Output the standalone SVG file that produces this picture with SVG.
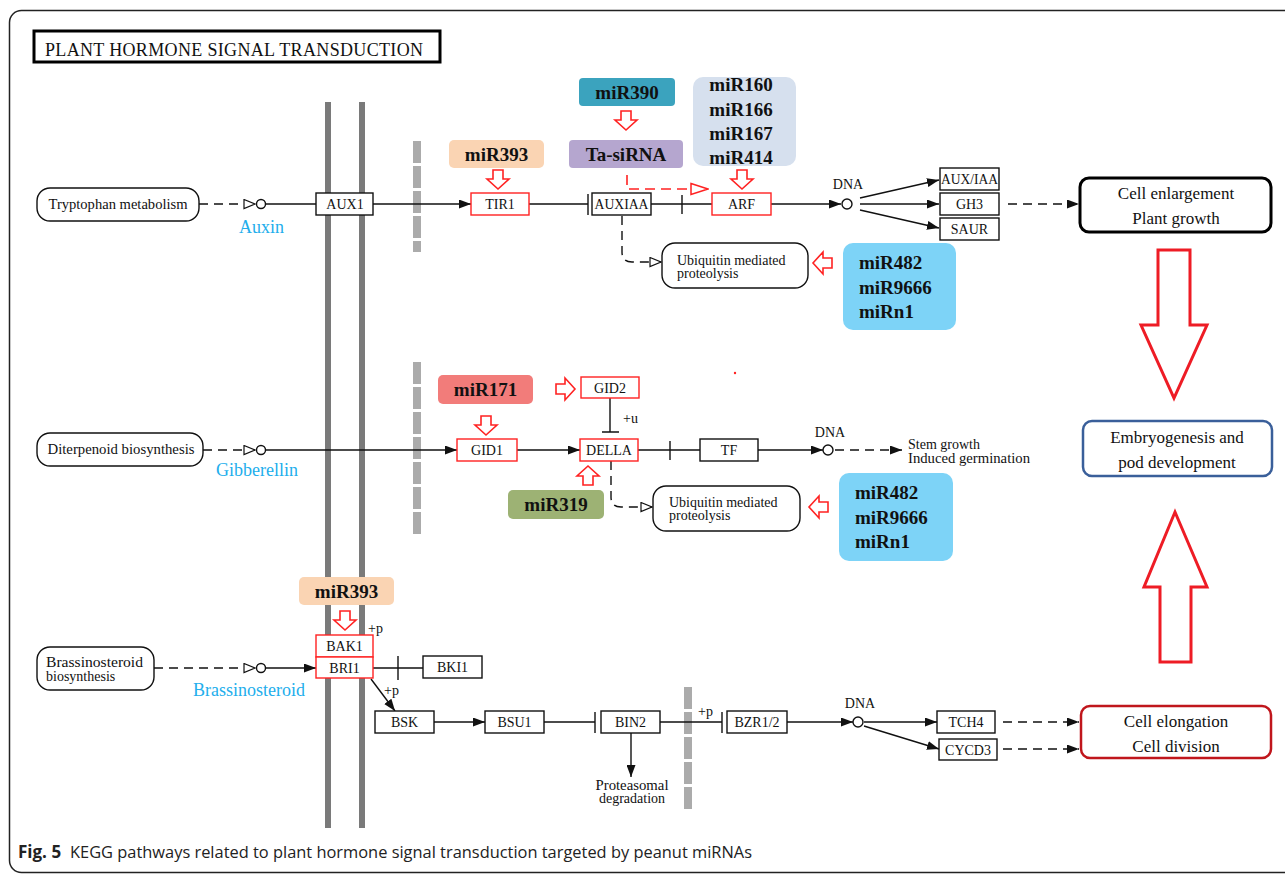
<svg xmlns="http://www.w3.org/2000/svg" width="1285" height="875" viewBox="0 0 1285 875">
<style>
.box{fill:#fff;stroke:#111;stroke-width:1.4}
.rbox{fill:#fff;stroke:#f22;stroke-width:1.4}
.rnd{fill:#fff;stroke:#111;stroke-width:1.4}
.t{font-family:"Liberation Serif",serif;font-size:14px;fill:#111}
.tc{font-family:"Liberation Serif",serif;font-size:14px;fill:#111;text-anchor:middle}
.mir{font-family:"Liberation Serif",serif;font-size:19px;font-weight:bold;fill:#111}
.mirc{font-family:"Liberation Serif",serif;font-size:19px;font-weight:bold;fill:#111;text-anchor:middle}
.blue{font-family:"Liberation Serif",serif;font-size:18px;fill:#22AEEC}
.big{font-family:"Liberation Serif",serif;font-size:17px;fill:#111;text-anchor:middle}
.ln{stroke:#111;stroke-width:1.4;fill:none}
.dash{stroke-dasharray:9 6}
.rdash{stroke:#f22;stroke-width:1.6;fill:none;stroke-dasharray:10 6}
.ha{fill:#fff;stroke:#f22;stroke-width:1.6;stroke-linejoin:miter}
.bigarrow{fill:#fff;stroke:#ee1c25;stroke-width:3}
.mem{fill:#7a7a7a}
.nuc{stroke:#ababab;stroke-width:8;stroke-dasharray:22 3;fill:none}
.dot{fill:#fff;stroke:#111;stroke-width:1.4}
</style>
<defs>
<marker id="arr" markerUnits="userSpaceOnUse" markerWidth="12" markerHeight="9" refX="12" refY="4.5" orient="auto"><path d="M0,0 L12,4.5 L0,9 Z" fill="#111"/></marker>
<marker id="open" markerUnits="userSpaceOnUse" markerWidth="13" markerHeight="11" refX="12" refY="5.5" orient="auto"><path d="M1,1 L12,5.5 L1,10 Z" fill="#fff" stroke="#111" stroke-width="1.2"/></marker>
<marker id="ropen" markerUnits="userSpaceOnUse" markerWidth="19" markerHeight="14" refX="18" refY="7" orient="auto"><path d="M1,1.5 L18,7 L1,12.5 Z" fill="#fff" stroke="#f22" stroke-width="1.5"/></marker>
<path id="hdown" d="M-5,0 H5 V9 H11 L0,19 L-11,9 H-5 Z"/>
</defs>

<rect x="9.5" y="10.5" width="1290" height="862" rx="12" fill="#fff" stroke="#222" stroke-width="1.5"/>

<g id="title">
<rect x="34" y="31" width="406" height="31" fill="#fff" stroke="#000" stroke-width="3"/>
<text x="45" y="56" textLength="378" lengthAdjust="spacing" style="font-family:'Liberation Serif',serif;font-size:18px;fill:#111">PLANT HORMONE SIGNAL TRANSDUCTION</text>
</g>

<g id="membranes">
<rect class="mem" x="325" y="102" width="6" height="726"/>
<rect class="mem" x="359" y="102" width="6" height="726"/>
<path class="nuc" d="M417,141 V252"/>
<path class="nuc" d="M417,362 V534"/>
<path class="nuc" d="M688,687 V809"/>
</g>

<g id="connectors">
<!-- row 1 -->
<path class="ln dash" d="M199,204 H255" marker-end="url(#open)"/>
<path class="ln" d="M266,204 H316"/>
<path class="ln" d="M373,204 H471" marker-end="url(#arr)"/>
<path class="ln" d="M529,204 H588 M588,194 V215"/>
<path class="ln" d="M651,204 H712 M682,195 V214"/>
<path class="ln" d="M771,204 H841" marker-end="url(#arr)"/>
<path class="ln" d="M860,198 L939,180" marker-end="url(#arr)"/>
<path class="ln" d="M860,204 H939" marker-end="url(#arr)"/>
<path class="ln" d="M860,210 L939,228" marker-end="url(#arr)"/>
<path class="ln dash" d="M1008,204 H1079" marker-end="url(#arr)"/>
<path class="ln dash" d="M622,216 V252 Q622,262 632,262 H661" marker-end="url(#open)"/>
<path class="rdash" d="M627,175 V189 H708" marker-end="url(#ropen)"/>
<!-- row 2 -->
<path class="ln dash" d="M203,450 H255" marker-end="url(#open)"/>
<path class="ln" d="M266,450 H457" marker-end="url(#arr)"/>
<path class="ln" d="M517,450 H580" marker-end="url(#arr)"/>
<path class="ln" d="M638,450 H700 M670,441 V460"/>
<path class="ln" d="M758,450 H823" marker-end="url(#arr)"/>
<path class="ln dash" d="M835,450 H902" marker-end="url(#arr)"/>
<path class="ln" d="M610,398 V432 M602,432 H619"/>
<path class="ln dash" d="M611,461 V497 Q611,507 621,507 H652" marker-end="url(#open)"/>
<!-- row 3 -->
<path class="ln dash" d="M154,668 H255" marker-end="url(#open)"/>
<path class="ln" d="M266,668 H316" marker-end="url(#arr)"/>
<path class="ln" d="M373,668 H423 M398,656 V680"/>
<path class="ln" d="M371,679 L395,711" marker-end="url(#arr)"/>
<path class="ln" d="M434,722 H485" marker-end="url(#arr)"/>
<path class="ln" d="M544,722 H595 M595,712 V733"/>
<path class="ln" d="M660,722 H722 M722,712 V733"/>
<path class="ln" d="M787,722 H853" marker-end="url(#arr)"/>
<path class="ln" d="M864,722 H937" marker-end="url(#arr)"/>
<path class="ln" d="M864,726 L939,749" marker-end="url(#arr)"/>
<path class="ln dash" d="M1003,722 H1079" marker-end="url(#arr)"/>
<path class="ln dash" d="M1003,749 H1079" marker-end="url(#arr)"/>
<path class="ln" d="M631,733 V777" marker-end="url(#arr)"/>
<!-- red hollow arrows -->
<use href="#hdown" class="ha" transform="translate(498,170)"/>
<use href="#hdown" class="ha" transform="translate(626,111)"/>
<use href="#hdown" class="ha" transform="translate(742,170)"/>
<use href="#hdown" class="ha" transform="translate(832,263) rotate(90)"/>
<use href="#hdown" class="ha" transform="translate(556,389) rotate(-90)"/>
<use href="#hdown" class="ha" transform="translate(486,416)"/>
<use href="#hdown" class="ha" transform="translate(588,485) rotate(180)"/>
<use href="#hdown" class="ha" transform="translate(828,507) rotate(90)"/>
<use href="#hdown" class="ha" transform="translate(345,611)"/>
<path class="bigarrow" d="M1158,250 H1190 V325 H1207 L1174,398 L1141,325 H1158 Z"/>
<path class="bigarrow" d="M1160,662 H1191 V587 H1207 L1175,512 L1144,587 H1160 Z"/>
<circle cx="735" cy="373" r="1.2" fill="#f22"/>
</g>

<!-- Row 1 nodes -->
<g id="tryptophan"><rect class="rnd" x="37" y="188" width="162" height="33" rx="13"/><text class="tc" x="118" y="209" textLength="139" lengthAdjust="spacingAndGlyphs">Tryptophan metabolism</text></g>
<g id="auxin"><circle class="dot" cx="261" cy="204" r="4.5"/><text class="blue" x="239" y="233">Auxin</text></g>
<g id="aux1"><rect class="box" x="316" y="193" width="57" height="22"/><text class="tc" x="345" y="209">AUX1</text></g>
<g id="tir1"><rect class="rbox" x="471" y="193" width="58" height="22"/><text class="tc" x="500" y="209">TIR1</text></g>
<g id="auxiaa"><rect class="box" x="592" y="193" width="59" height="22"/><text class="tc" x="621.5" y="209" textLength="54" lengthAdjust="spacingAndGlyphs">AUXIAA</text></g>
<g id="arf"><rect class="rbox" x="712" y="193" width="59" height="22"/><text class="tc" x="741.5" y="209">ARF</text></g>
<g id="dna1"><circle class="dot" cx="847" cy="204" r="5"/><text class="tc" x="848" y="189">DNA</text></g>
<g id="auxiaa2"><rect class="box" x="940" y="168" width="59" height="22"/><text class="tc" x="969.5" y="184" textLength="57" lengthAdjust="spacingAndGlyphs">AUX/IAA</text></g>
<g id="gh3"><rect class="box" x="940" y="193" width="59" height="22"/><text class="tc" x="969.5" y="209">GH3</text></g>
<g id="saur"><rect class="box" x="940" y="218" width="59" height="22"/><text class="tc" x="969.5" y="234">SAUR</text></g>
<g id="ubiq1"><rect class="rnd" x="662" y="243" width="146" height="45" rx="13"/><text class="t" x="677" y="265">Ubiquitin mediated</text><text class="t" x="677" y="278">proteolysis</text></g>
<g id="mir393a"><rect x="449" y="140" width="95" height="28" rx="5" fill="#FAD4B3"/><text class="mirc" x="496.5" y="161">miR393</text></g>
<g id="mir390"><rect x="579" y="78" width="96" height="28" rx="4" fill="#3BA3BE"/><text class="mirc" x="627" y="99">miR390</text></g>
<g id="tasirna"><rect x="569" y="140" width="114" height="28" rx="4" fill="#B5A6CF"/><text class="mirc" x="626" y="161">Ta-siRNA</text></g>
<g id="mir160"><rect x="693" y="77" width="103" height="89" rx="10" fill="#D6E0EE"/><text class="mirc" x="741" y="91">miR160</text><text class="mirc" x="741" y="116">miR166</text><text class="mirc" x="741" y="140">miR167</text><text class="mirc" x="741" y="164">miR414</text></g>
<g id="mir482a"><rect x="843" y="243" width="113" height="87" rx="10" fill="#7DD3F7"/><text class="mir" x="859" y="269">miR482</text><text class="mir" x="859" y="294">miR9666</text><text class="mir" x="859" y="318">miRn1</text></g>
<g id="cellenl"><rect x="1080" y="178" width="191" height="54" rx="9" fill="#fff" stroke="#000" stroke-width="3"/><text class="big" x="1176" y="199">Cell  enlargement</text><text class="big" x="1176" y="224">Plant  growth</text></g>

<!-- Row 2 nodes -->
<g id="diterpenoid"><rect class="rnd" x="37" y="433" width="166" height="33" rx="13"/><text class="tc" x="121" y="454" textLength="147" lengthAdjust="spacingAndGlyphs">Diterpenoid biosynthesis</text></g>
<g id="gibberellin"><circle class="dot" cx="261" cy="450" r="4.5"/><text class="blue" x="216" y="476">Gibberellin</text></g>
<g id="gid1"><rect class="rbox" x="457" y="439" width="60" height="22"/><text class="tc" x="487" y="455">GID1</text></g>
<g id="gid2"><rect class="rbox" x="581" y="377" width="58" height="21"/><text class="tc" x="610" y="393">GID2</text><text class="t" x="623" y="423">+u</text></g>
<g id="della"><rect class="rbox" x="580" y="439" width="58" height="22"/><text class="tc" x="609" y="455">DELLA</text></g>
<g id="tf"><rect class="box" x="700" y="439" width="58" height="22"/><text class="tc" x="729" y="455">TF</text></g>
<g id="dna2"><circle class="dot" cx="828" cy="450" r="5"/><text class="tc" x="830" y="437">DNA</text></g>
<g id="stem"><text class="t" x="908" y="449">Stem growth</text><text class="t" x="908" y="463" textLength="122" lengthAdjust="spacingAndGlyphs">Induced germination</text></g>
<g id="ubiq2"><rect class="rnd" x="653" y="486" width="147" height="45" rx="13"/><text class="t" x="669" y="507">Ubiquitin mediated</text><text class="t" x="669" y="520">proteolysis</text></g>
<g id="mir171"><rect x="438" y="375" width="95" height="29" rx="5" fill="#F27C7A"/><text class="mirc" x="485.5" y="396">miR171</text></g>
<g id="mir319"><rect x="508" y="490" width="96" height="29" rx="5" fill="#9DB274"/><text class="mirc" x="556" y="511">miR319</text></g>
<g id="mir482b"><rect x="839" y="473" width="114" height="88" rx="10" fill="#7DD3F7"/><text class="mir" x="855" y="499">miR482</text><text class="mir" x="855" y="524">miR9666</text><text class="mir" x="855" y="548">miRn1</text></g>

<!-- Row 3 nodes -->
<g id="brassbio"><rect class="rnd" x="37" y="647" width="117" height="43" rx="13"/><text class="t" x="46" y="667" textLength="97" lengthAdjust="spacingAndGlyphs">Brassinosteroid</text><text class="t" x="46" y="681">biosynthesis</text></g>
<g id="brassinosteroid"><circle class="dot" cx="261" cy="668" r="4.5"/><text class="blue" x="193" y="696">Brassinosteroid</text></g>
<g id="mir393b"><rect x="299" y="577" width="95" height="28" rx="5" fill="#FAD4B3"/><text class="mirc" x="346.5" y="598">miR393</text></g>
<g id="bak1bri1"><rect class="rbox" x="316" y="635" width="57" height="22"/><text class="tc" x="344.5" y="651">BAK1</text><rect class="rbox" x="316" y="657" width="57" height="21"/><text class="tc" x="344.5" y="673">BRI1</text><text class="t" x="368" y="633">+p</text><text class="t" x="384" y="695">+p</text></g>
<g id="bki1"><rect class="box" x="423" y="656" width="59" height="22"/><text class="tc" x="452.5" y="672">BKI1</text></g>
<g id="bsk"><rect class="box" x="375" y="711" width="59" height="22"/><text class="tc" x="404.5" y="727">BSK</text></g>
<g id="bsu1"><rect class="box" x="485" y="711" width="59" height="22"/><text class="tc" x="514.5" y="727">BSU1</text></g>
<g id="bin2"><rect class="box" x="601" y="711" width="59" height="22"/><text class="tc" x="630.5" y="727">BIN2</text></g>
<g id="proteasomal"><text class="tc" x="632" y="790" textLength="73" lengthAdjust="spacingAndGlyphs">Proteasomal</text><text class="tc" x="632" y="803">degradation</text></g>
<g id="bzr"><rect class="box" x="727" y="711" width="60" height="22"/><text class="tc" x="757" y="727">BZR1/2</text><text class="t" x="698" y="716">+p</text></g>
<g id="dna3"><circle class="dot" cx="858" cy="722" r="5"/><text class="tc" x="860" y="708">DNA</text></g>
<g id="tch4"><rect class="box" x="937" y="711" width="58" height="22"/><text class="tc" x="966" y="727">TCH4</text></g>
<g id="cycd3"><rect class="box" x="939" y="739" width="58" height="21"/><text class="tc" x="968" y="755">CYCD3</text></g>

<!-- outcome boxes -->
<g id="embryo"><rect x="1083" y="421" width="189" height="55" rx="9" fill="#fff" stroke="#3A5F9A" stroke-width="2.5"/><text class="big" x="1177" y="443">Embryogenesis  and</text><text class="big" x="1177" y="468">pod development</text></g>
<g id="cellelong"><rect x="1081" y="706" width="190" height="52" rx="9" fill="#fff" stroke="#C0161C" stroke-width="2.5"/><text class="big" x="1176" y="727">Cell  elongation</text><text class="big" x="1176" y="752">Cell  division</text></g>

<g id="caption">
<text x="18" y="858" style="font-family:'Open Sans','Liberation Sans',sans-serif;font-size:17px;font-weight:bold;fill:#222">Fig. 5</text>
<text x="70" y="858" textLength="682" lengthAdjust="spacingAndGlyphs" style="font-family:'Open Sans','Liberation Sans',sans-serif;font-size:17px;fill:#222">KEGG pathways related to plant hormone signal transduction targeted by peanut miRNAs</text>
</g>
</svg>
